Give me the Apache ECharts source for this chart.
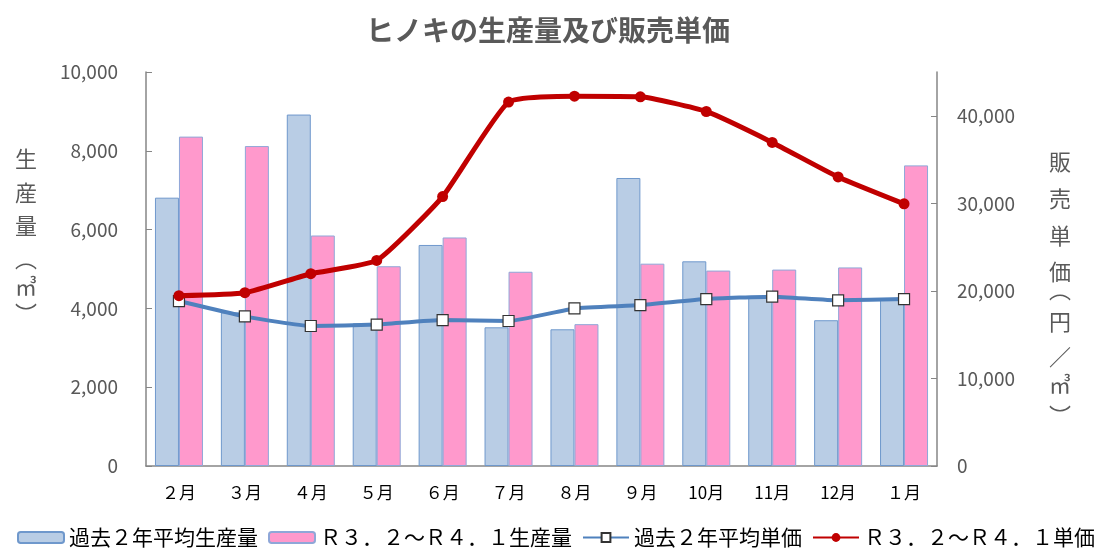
<!DOCTYPE html>
<html>
<head>
<meta charset="utf-8">
<script src="https://cdn.jsdelivr.net/npm/echarts@6/dist/echarts.min.js"></script>
<style>
html,body{margin:0;padding:0;background:#fff;}
#c{width:1096px;height:552px;}
</style>
</head>
<body>
<div id="c"></div>
<script>
const months = ['２月','３月','４月','５月','６月','７月','８月','９月','10月','11月','12月','１月'];
const avgProd = [6810, 3900, 8920, 3620, 5610, 3520, 3470, 7310, 5195, 4280, 3700, 4220];
const recentProd = [8360, 8120, 5850, 5070, 5800, 4930, 3600, 5135, 4960, 4985, 5040, 7630];
const avgPrice = [18840, 17090, 15990, 16150, 16670, 16560, 18000, 18380, 19070, 19340, 18920, 19070];
const recentPrice = [19450, 19790, 21960, 23480, 30770, 41560, 42240, 42170, 40490, 36960, 33010, 29940];
const leftTicks = [0, 2000, 4000, 6000, 8000, 10000];
const rightTicks = [0, 10000, 20000, 30000, 40000];
const seriesNames = ['過去２年平均生産量','Ｒ３．２～Ｒ４．１生産量','過去２年平均単価','Ｒ３．２～Ｒ４．１単価'];
const titleText = 'ヒノキの生産量及び販売単価';
const leftName = ['生','産','量','︵','㎥','︶'];
const rightName = ['販','売','単','価','︵','円','／','㎥','︶'];

const FONT = '"Noto Sans CJK JP", "Noto Sans", sans-serif';
const GREY = '#595959';
const fmt = v => v.toLocaleString('en-US');

// vertical-form brackets sit off-centre in their em box, so their anchor is shifted
const leftY = [159,193,226,259,287,314];
const rightY = [162,199,236,272,290,322,357,385,416];
const graphic = [];
function addName(chars, ys, cx) {
  chars.forEach((ch, i) => graphic.push({
    type:'text', x: cx, y: ys[i],
    style:{text: ch, font: '22px ' + FONT, fill: GREY, align:'center', verticalAlign:'middle'}
  }));
}
addName(leftName, leftY, 26);
addName(rightName, rightY, 1060);

const chart = echarts.init(document.getElementById('c'), null, {renderer:'canvas'});
chart.setOption({
  animation:false,
  backgroundColor:'#fff',
  textStyle:{fontFamily: FONT},
  title:{
    text: titleText, left: 'center', top: 11,
    textStyle:{fontFamily: FONT, fontSize: 28, fontWeight:'bold', color: GREY}
  },
  graphic: graphic,
  legend:{
    data: seriesNames,
    left: 17, bottom: 4, width: 1079, padding: 0,
    itemWidth: 46, itemHeight: 11, itemGap: 10,
    textStyle:{fontFamily: FONT, fontSize: 21, color:'#000'}
  },
  grid:{left:146, right:159, top:72, bottom:86, containLabel:false},
  xAxis:{
    type:'category', data: months,
    axisLine:{lineStyle:{color:'#868686', width:1.5}},
    axisTick:{show:false},
    axisLabel:{fontFamily: FONT, fontSize:17, color:'#000', margin:18}
  },
  yAxis:[{
    type:'value', min:0, max:10000, interval:2000,
    axisLine:{show:true, lineStyle:{color:'#868686', width:1.5}},
    axisTick:{show:true, inside:true, length:6, lineStyle:{color:'#868686'}},
    splitLine:{show:false},
    axisLabel:{fontFamily: FONT, fontSize:19, color:GREY, margin:28, formatter: fmt,
      customValues: leftTicks}
  },{
    type:'value', min:0, max:45000, interval:10000,
    axisLine:{show:true, lineStyle:{color:'#868686', width:1.5}},
    axisTick:{show:true, inside:true, length:6, lineStyle:{color:'#868686'}, customValues: rightTicks},
    splitLine:{show:false},
    axisLabel:{fontFamily: FONT, fontSize:19, color:GREY, margin:20, formatter: fmt,
      customValues: rightTicks}
  }],
  series:[{
    name: seriesNames[0], type:'bar', yAxisIndex:0, data: avgProd,
    barWidth: 24, barGap: '0%',
    itemStyle:{color:'#B9CDE5', borderColor:'#6F98CC', borderWidth:1}
  },{
    name: seriesNames[1], type:'bar', yAxisIndex:0, data: recentProd,
    barWidth: 24, barGap: '0%',
    itemStyle:{color:'#FF99CC', borderColor:'#8FA7D8', borderWidth:1}
  },{
    name: seriesNames[2], type:'line', yAxisIndex:1, data: avgPrice,
    smooth: 0.15, symbol:'rect', symbolSize: 11,
    lineStyle:{color:'#4F81BD', width:4},
    itemStyle:{color:'#fff', borderColor:'#333', borderWidth:1.2},
    z: 3
  },{
    name: seriesNames[3], type:'line', yAxisIndex:1, data: recentPrice,
    smooth: 0.15, symbol:'circle', symbolSize: 11,
    lineStyle:{color:'#C00000', width:5},
    itemStyle:{color:'#C00000', borderColor:'#C00000', borderWidth:0},
    z: 4
  }]
});
</script>
</body>
</html>
